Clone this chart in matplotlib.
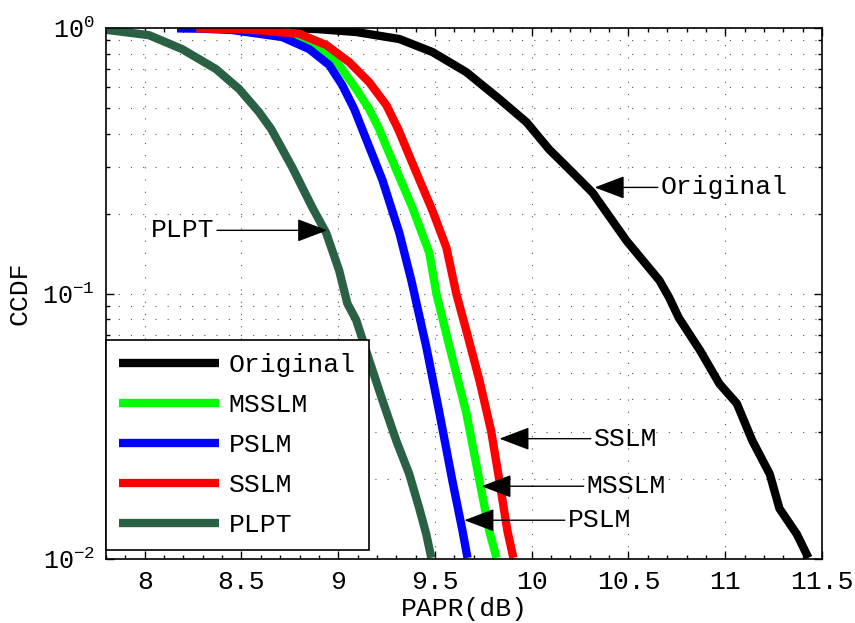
import numpy as np
import matplotlib
matplotlib.use("Agg")
import matplotlib.pyplot as plt
from matplotlib.ticker import LogLocator, MultipleLocator, NullFormatter

plt.rcParams['font.family'] = ['Liberation Mono', 'DejaVu Sans']

# curves (PAPR in dB, CCDF)
orig_x = [8.75, 8.90, 9.093, 9.316, 9.487, 9.662, 9.833, 9.973, 10.09, 10.21, 10.314,
          10.49, 10.66, 10.71, 10.76, 10.87, 10.97, 11.06, 11.14, 11.23, 11.28, 11.37, 11.43]
orig_y = [1.0, 0.99, 0.966, 0.909, 0.812, 0.682, 0.54, 0.442, 0.349, 0.286, 0.24,
          0.158, 0.112, 0.0966, 0.081, 0.061, 0.0457, 0.0385, 0.0279, 0.0209, 0.0155, 0.0124, 0.0101]

msslm_x = [8.30, 8.60, 8.75, 8.886, 9.005, 9.093, 9.16, 9.212, 9.25, 9.383, 9.471,
           9.507, 9.575, 9.662, 9.73, 9.78, 9.818]
msslm_y = [0.997, 0.985, 0.94, 0.863, 0.725, 0.589, 0.495, 0.416, 0.356, 0.211, 0.142,
           0.10, 0.063, 0.0355, 0.0197, 0.0128, 0.0101]

pslm_x = [8.167, 8.30, 8.452, 8.71, 8.85, 8.954, 9.021, 9.083, 9.124, 9.228, 9.316,
          9.378, 9.455, 9.523, 9.59, 9.642, 9.668]
pslm_y = [0.997, 0.994, 0.983, 0.925, 0.833, 0.725, 0.609, 0.495, 0.416, 0.268, 0.169,
          0.112, 0.063, 0.0355, 0.0197, 0.0128, 0.0101]

sslm_x = [8.266, 8.54, 8.798, 8.938, 9.057, 9.16, 9.249, 9.31, 9.383, 9.486, 9.559,
          9.61, 9.662, 9.73, 9.79, 9.833, 9.874, 9.905]
sslm_y = [0.997, 0.987, 0.952, 0.863, 0.744, 0.625, 0.512, 0.416, 0.31, 0.206, 0.149,
          0.10, 0.0725, 0.047, 0.0304, 0.0197, 0.0128, 0.0101]

plpt_x = [7.80, 8.022, 8.193, 8.369, 8.488, 8.591, 8.654, 8.762, 8.866, 8.938, 9.005,
          9.047, 9.093, 9.16, 9.228, 9.30, 9.367, 9.419, 9.455, 9.481]
plpt_y = [0.985, 0.94, 0.833, 0.70, 0.589, 0.482, 0.416, 0.299, 0.211, 0.169, 0.122,
          0.0918, 0.0794, 0.0561, 0.0397, 0.0279, 0.0209, 0.0155, 0.0124, 0.0101]

names = ['Original', 'MSSLM', 'PSLM', 'SSLM', 'PLPT']
colors = ['#000000', '#00ff00', '#0000ff', '#ff0000', '#2a6145']
xs = [orig_x, msslm_x, pslm_x, sslm_x, plpt_x]
ys = [orig_y, msslm_y, pslm_y, sslm_y, plpt_y]

xticks = [8, 8.5, 9, 9.5, 10, 10.5, 11, 11.5]
xtick_labels = ['8', '8.5', '9', '9.5', '10', '10.5', '11', '11.5']

# annotation: label, arrow head x, y, text x, side
notes = [('Original', 10.325, 0.251, 10.666, 'left'),
         ('PLPT', 8.943, 0.173, 8.359, 'right'),
         ('SSLM', 9.833, 0.0284, 10.32, 'left'),
         ('MSSLM', 9.74, 0.0188, 10.283, 'left'),
         ('PSLM', 9.652, 0.0140, 10.185, 'left')]

fig = plt.figure(figsize=(8.55, 6.23), dpi=100)
ax = fig.add_axes([0.124, 0.1027, 0.8374, 0.8523])

for x, y, c, n in zip(xs, ys, colors, names):
    ax.semilogy(x, y, color=c, lw=6, label=n, solid_joinstyle='round', solid_capstyle='butt')

ax.set_xlim(7.8, 11.5)
ax.set_ylim(1e-2, 1)
ax.set_xticks(xticks)
ax.set_xticklabels(xtick_labels)
ax.xaxis.set_minor_locator(MultipleLocator(0.1))
ax.yaxis.set_major_locator(LogLocator(base=10))
ax.yaxis.set_minor_locator(LogLocator(base=10, subs=np.arange(2, 10)))
ax.yaxis.set_minor_formatter(NullFormatter())

ax.grid(True, which='major', axis='both', color='#555555', lw=0.8, linestyle=(0, (1, 10)))
ax.grid(True, which='minor', axis='y', color='#555555', lw=0.8, linestyle=(0, (1, 10)))

ax.tick_params(which='both', direction='in', top=True, right=True, width=1)
ax.tick_params(which='major', length=6, labelsize=19, pad=8)
ax.tick_params(which='minor', length=3)
for lab in ax.get_yticklabels():
    lab.set_fontsize(18)
for s in ax.spines.values():
    s.set_linewidth(1.2)

ax.set_xlabel('PAPR(dB)', fontsize=19, labelpad=2)
ax.set_ylabel('CCDF', fontsize=19, labelpad=8)

for label, hx, hy, tx, ha in notes:
    ax.annotate(label, xy=(hx, hy), xytext=(tx, hy), ha=ha, va='center', fontsize=19,
                arrowprops=dict(arrowstyle='-|>,head_length=1.0,head_width=0.38',
                                color='k', lw=1, shrinkA=0, shrinkB=0,
                                relpos=(0 if ha == 'left' else 1, 0.5)))

leg = ax.legend(loc='lower left', bbox_to_anchor=(0, 0.017), borderaxespad=0,
                fontsize=19, handlelength=3.8, handletextpad=0.35, labelspacing=0.6,
                borderpad=0.5, fancybox=False, framealpha=1, edgecolor='k')
leg.get_frame().set_linewidth(1.2)

fig.savefig('out.png', dpi=100)
